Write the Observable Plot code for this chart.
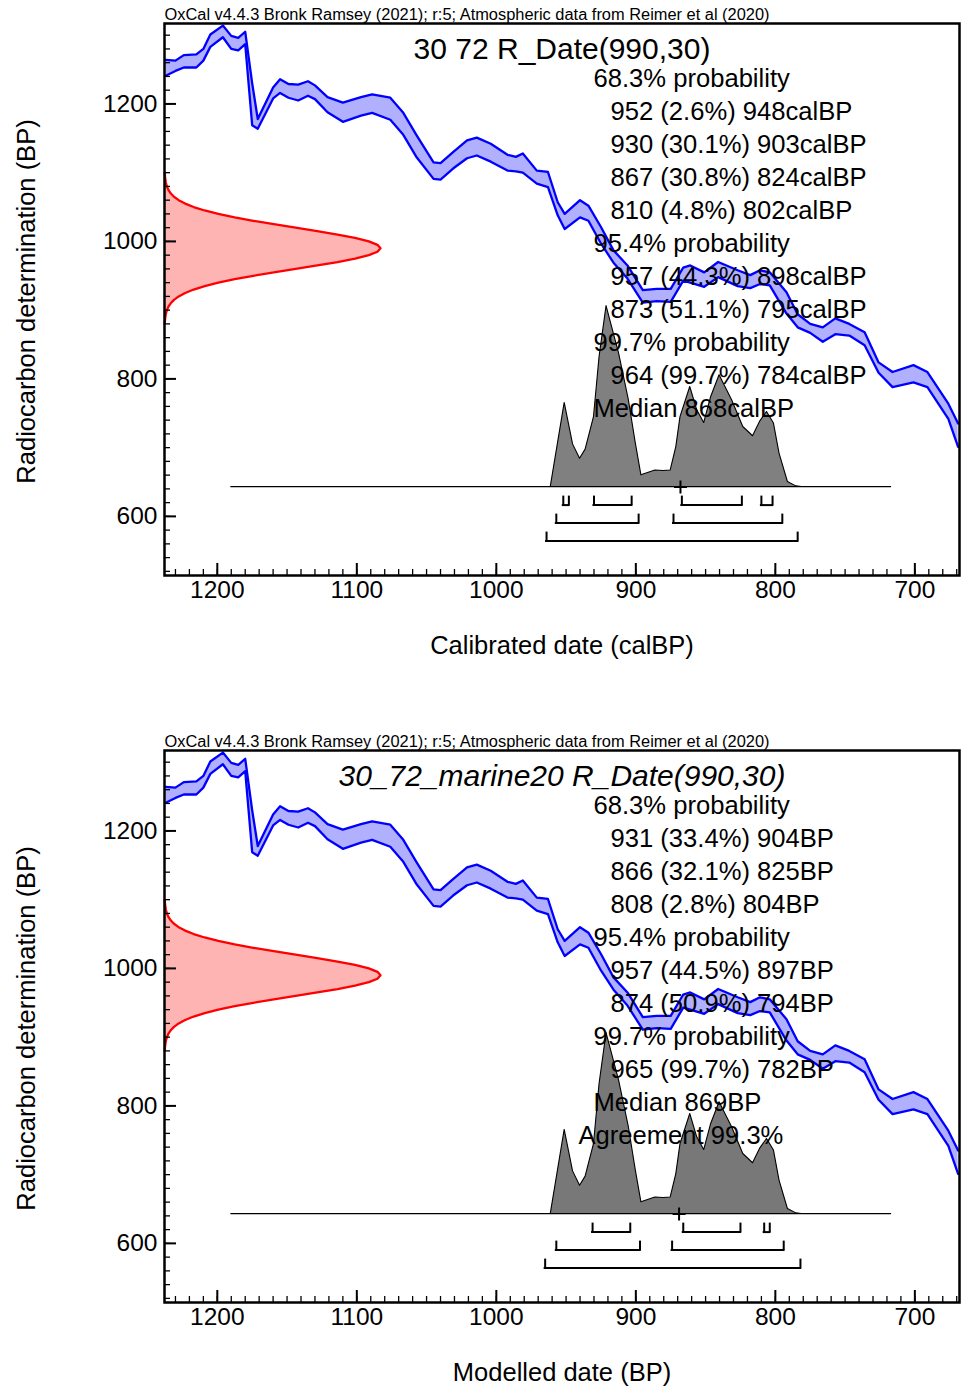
<!DOCTYPE html>
<html>
<head>
<meta charset="utf-8">
<script src="https://cdn.jsdelivr.net/npm/d3@7"></script>
<script src="https://cdn.jsdelivr.net/npm/@observablehq/plot@0.6"></script>
<style>
  html, body { margin: 0; padding: 0; background: #fff; }
  #root { width: 963px; }
  #root svg { display: block; }
</style>
</head>
<body>
<div id="root"></div>
<script>
// ---------------- texts ----------------
const headerText = "OxCal v4.4.3 Bronk Ramsey (2021); r:5; Atmospheric data from Reimer et al (2020)";
const titleTop = "30 72 R_Date(990,30)";
const titleBottom = "30_72_marine20 R_Date(990,30)";
const xLabelTop = "Calibrated date (calBP)";
const xLabelBottom = "Modelled date (BP)";
const yLabel = "Radiocarbon determination (BP)";
const unitTop = "calBP";
const unitBottom = "BP";

// ---------------- ticks ----------------
const xMajorTicks = [1200, 1100, 1000, 900, 800, 700];
const yMajorTicks = [600, 800, 1000, 1200];
const xMinorTicks = d3.range(670, 1240, 10);
const yMinorTicks = d3.range(520, 1320, 20);

// ---------------- calibration curve (calBP, upper / lower 1-sigma BP) ----------------
const curveYears = [1237,1230,1224,1215,1210,1205,1196,1190,1185,1180,1175,1171,1160,1155,1149,1142,1135,1130,1121,1110,1097,1089,1076,1067,1057,1045,1040,1031,1021,1014,1004,992,986,981,971,963,956,951,940,934,925,916,906,895,885,875,866,861,851,841,827,818,811,804,792,784,775,766,757,747,736,726,716,701,691,676,669];
const curveUpper = [1264,1263,1271,1272,1280,1301,1314,1299,1296,1305,1230,1178,1224,1236,1229,1228,1233,1227,1210,1202,1210,1214,1209,1188,1154,1115,1114,1130,1147,1151,1142,1126,1123,1128,1103,1101,1057,1040,1060,1052,1021,987,965,929,931,931,962,965,955,970,958,951,958,955,926,894,880,875,888,880,868,824,810,820,810,764,735];
const curveLower = [1241,1248,1253,1253,1263,1283,1297,1280,1278,1287,1169,1164,1208,1216,1209,1205,1212,1207,1188,1174,1183,1187,1177,1156,1122,1091,1090,1106,1121,1125,1116,1103,1102,1100,1084,1079,1038,1018,1035,1030,997,969,946,911,913,912,943,940,934,948,935,932,938,936,895,875,867,854,865,863,849,809,788,795,788,742,701];

// ---------------- radiocarbon likelihood R_Date(990,30) (relative) ----------------
const likBP = [1100,1095,1090,1085,1080,1075,1070,1065,1060,1055,1050,1045,1040,1035,1030,1025,1020,1015,1010,1005,1000,995,990,985,980,975,970,965,960,955,950,945,940,935,930,925,920,915,910,905,900,895,890,885,880];
const likDensity = [0.0012,0.0022,0.0039,0.0066,0.0111,0.0181,0.0286,0.0439,0.0657,0.0956,0.135,0.186,0.249,0.325,0.411,0.506,0.607,0.707,0.801,0.882,0.946,0.986,1,0.986,0.946,0.882,0.801,0.707,0.607,0.506,0.411,0.325,0.249,0.186,0.135,0.0956,0.0657,0.0439,0.0286,0.0181,0.0111,0.0066,0.0039,0.0022,0.0012];

// ---------------- calibrated distribution (relative probability) ----------------
const postYears = [1190,961,951,945,940,936,930,926,921,912,905,900,896,886,880,875,871,868,861,856,851,846,840,831,823,816,811,806,801,797,791,785,781,717];
const postProb  = [0,0,0.465,0.236,0.157,0.207,0.387,0.719,1.0,0.738,0.480,0.240,0.065,0.092,0.089,0.092,0.221,0.387,0.553,0.424,0.354,0.498,0.618,0.480,0.332,0.281,0.360,0.415,0.351,0.185,0.028,0.004,0,0];

// ---------------- ranges ----------------
const topRanges68 = [[952, 948], [930, 903], [867, 824], [810, 802]];
const topPct68 = [2.6, 30.1, 30.8, 4.8];
const topRanges95 = [[957, 898], [873, 795]];
const topPct95 = [44.3, 51.1];
const topRanges99 = [[964, 784]];
const topPct99 = [99.7];
const topMedian = 868;

const botRanges68 = [[931, 904], [866, 825], [808, 804]];
const botPct68 = [33.4, 32.1, 2.8];
const botRanges95 = [[957, 897], [874, 794]];
const botPct95 = [44.5, 50.9];
const botRanges99 = [[965, 782]];
const botPct99 = [99.7];
const botMedian = 869;
const botAgreement = 99.3;

// ---------------- layout / style ----------------
const W = 963, ML = 164, MR = 4, MT = 23;
const X_DOMAIN = [1237.85, 668];
const Y_DOMAIN = [514, 1317];
const FONT = "Liberation Sans, Arial, Helvetica, sans-serif";
const POST_BASE = 642.6;      // BP level of distribution baseline
const POST_PEAK_PX = 181;     // height of distribution peak
const LIK_PEAK_PX = 216;      // width of likelihood peak
const TEXT_FS = 25.6, LINE_H = 1.289;

const crossSymbol = {
  draw(ctx, size) {
    const r = Math.sqrt(size / Math.PI);
    ctx.moveTo(-r, 0); ctx.lineTo(r, 0);
    ctx.moveTo(0, -r); ctx.lineTo(0, r);
  }
};

function fmtRange(r, p, unit) { return `${r[0]} (${p.toFixed(1)}%) ${r[1]}${unit}`; }

function buildText(r68, p68, r95, p95, r99, p99, median, unit) {
  const head = [], body = [];
  const add = (h, b) => { head.push(h); body.push(b); };
  add("68.3% probability", "");
  r68.forEach((r, i) => add("", fmtRange(r, p68[i], unit)));
  add("95.4% probability", "");
  r95.forEach((r, i) => add("", fmtRange(r, p95[i], unit)));
  add("99.7% probability", "");
  r99.forEach((r, i) => add("", fmtRange(r, p99[i], unit)));
  add(`Median ${median}${unit}`, "");
  return {head: head.join("\n"), body: body.join("\n"), n: head.length};
}

function panel({height, marginBottom, title, italic, xLabel, texts, ranges, median, agreement, postFill}) {
  const frameW = W - ML - MR, frameH = height - MT - marginBottom;
  const yrPerPx = (X_DOMAIN[0] - X_DOMAIN[1]) / frameW;
  const bpPerPx = (Y_DOMAIN[1] - Y_DOMAIN[0]) / frameH;
  const base = POST_BASE;

  const curve = curveYears.map((x, i) => ({x, hi: curveUpper[i], lo: curveLower[i]}));
  const lik = likBP.map((y, i) => ({y, x1: X_DOMAIN[0], x2: X_DOMAIN[0] - likDensity[i] * LIK_PEAK_PX * yrPerPx}));
  const post = postYears.map((x, i) => ({x, y1: base, y2: base + postProb[i] * POST_PEAK_PX * bpPerPx}));
  const brackets = [];
  ranges.forEach((rs, level) => rs.forEach(([a, b]) => {
    const topPx = 10 + 18 * level;
    brackets.push({a, b, top: base - topPx * bpPerPx, bot: base - (topPx + 8) * bpPerPx});
  }));

  const textDy = 86.7 - MT - 0.71 * LINE_H * TEXT_FS;
  const marks = [
    // calibration curve band
    Plot.areaY(curve, {x: "x", y1: "lo", y2: "hi", fill: "#b0b0ff", clip: true}),
    Plot.line(curve, {x: "x", y: "hi", stroke: "#0000ff", strokeWidth: 2.3, clip: true}),
    Plot.line(curve, {x: "x", y: "lo", stroke: "#0000ff", strokeWidth: 2.3, clip: true}),
    // likelihood
    Plot.areaX(lik, {y: "y", x1: "x1", x2: "x2", fill: "#ffb4b4"}),
    Plot.line(lik, {x: "x2", y: "y", stroke: "#ff0000", strokeWidth: 2.3}),
    // calibrated distribution
    Plot.areaY(post, {x: "x", y1: "y1", y2: "y2", fill: postFill, stroke: "#000", strokeWidth: 1.1}),
    // range brackets
    Plot.ruleY(brackets, {x1: "a", x2: "b", y: "bot", stroke: "#000", strokeWidth: 2, strokeLinecap: "square"}),
    Plot.ruleX(brackets, {x: "a", y1: "top", y2: "bot", stroke: "#000", strokeWidth: 2, strokeLinecap: "square"}),
    Plot.ruleX(brackets, {x: "b", y1: "top", y2: "bot", stroke: "#000", strokeWidth: 2, strokeLinecap: "square"}),
    // median cross
    Plot.dot([{x: median, y: base}], {x: "x", y: "y", symbol: crossSymbol, r: 6.5, stroke: "#000", strokeWidth: 2, fill: "none"}),
    // inner ticks
    Plot.ruleX(xMinorTicks, {x: d => d, insetTop: frameH - 6, stroke: "#000", strokeWidth: 1.3}),
    Plot.ruleX(xMajorTicks, {x: d => d, insetTop: frameH - 12, stroke: "#000", strokeWidth: 2}),
    Plot.ruleY(yMinorTicks, {y: d => d, insetRight: frameW - 6, stroke: "#000", strokeWidth: 1.3}),
    Plot.ruleY(yMajorTicks, {y: d => d, insetRight: frameW - 12, stroke: "#000", strokeWidth: 2}),
    Plot.frame({stroke: "#000", strokeWidth: 2.5}),
    // axes tick labels
    Plot.axisX({ticks: xMajorTicks, anchor: "bottom", tickSize: 0, tickPadding: 5, tickFormat: d => String(d), fontSize: 24.5, label: null}),
    Plot.axisY({ticks: yMajorTicks, anchor: "left", tickSize: 0, tickPadding: 7, tickFormat: d => String(d), fontSize: 24.5, label: null}),
    // axis titles
    Plot.text([xLabel], {text: d => d, frameAnchor: "bottom", dy: 78, lineAnchor: "bottom", fontSize: 25.5, fill: "#000"}),
    Plot.text([yLabel], {text: d => d, frameAnchor: "left", textAnchor: "middle", dx: 34 - ML, dy: 2, rotate: -90, lineAnchor: "bottom", fontSize: 25.5, fill: "#000"}),
    // header & title
    Plot.text([headerText], {text: d => d, frameAnchor: "top-left", textAnchor: "start", lineAnchor: "bottom", dy: -4, fontSize: 16, fill: "#000"}),
    Plot.text([title], {text: d => d, frameAnchor: "top", lineAnchor: "bottom", dy: 58.7 - MT, fontSize: 30, fontStyle: italic ? "italic" : "normal", fill: "#000"}),
    // probability text
    Plot.text([texts.head], {text: d => d, frameAnchor: "top-left", textAnchor: "start", lineAnchor: "top", lineHeight: LINE_H, dx: 593 - ML, dy: textDy, fontSize: TEXT_FS, fill: "#000"}),
    Plot.text([texts.body], {text: d => d, frameAnchor: "top-left", textAnchor: "start", lineAnchor: "top", lineHeight: LINE_H, dx: 610 - ML, dy: textDy, fontSize: TEXT_FS, fill: "#000"})
  ];
  if (agreement != null) {
    marks.push(Plot.text(["\n".repeat(texts.n) + `Agreement ${agreement.toFixed(1)}%`], {text: d => d, frameAnchor: "top-left", textAnchor: "start", lineAnchor: "top", lineHeight: LINE_H, dx: 578 - ML, dy: textDy, fontSize: TEXT_FS, fill: "#000"}));
  }

  const svg = Plot.plot({
    width: W, height,
    marginLeft: ML, marginRight: MR, marginTop: MT, marginBottom,
    x: {domain: X_DOMAIN, label: null},
    y: {domain: Y_DOMAIN, label: null},
    style: {fontFamily: FONT, background: "#fff", color: "#000", overflow: "visible"},
    marks
  });
  svg.querySelectorAll("text").forEach(t => {
    if (t.textContent.startsWith("OxCal")) {
      t.setAttribute("textLength", 605);
      t.setAttribute("lengthAdjust", "spacingAndGlyphs");
    }
  });
  return svg;
}

const root = document.getElementById("root");
root.appendChild(panel({
  height: 727, marginBottom: 152, title: titleTop, italic: false, xLabel: xLabelTop,
  texts: buildText(topRanges68, topPct68, topRanges95, topPct95, topRanges99, topPct99, topMedian, unitTop),
  ranges: [topRanges68, topRanges95, topRanges99], median: topMedian, agreement: null, postFill: "#808080"
}));
root.appendChild(panel({
  height: 668, marginBottom: 93, title: titleBottom, italic: true, xLabel: xLabelBottom,
  texts: buildText(botRanges68, botPct68, botRanges95, botPct95, botRanges99, botPct99, botMedian, unitBottom),
  ranges: [botRanges68, botRanges95, botRanges99], median: botMedian, agreement: botAgreement, postFill: "#787878"
}));
</script>
</body>
</html>
